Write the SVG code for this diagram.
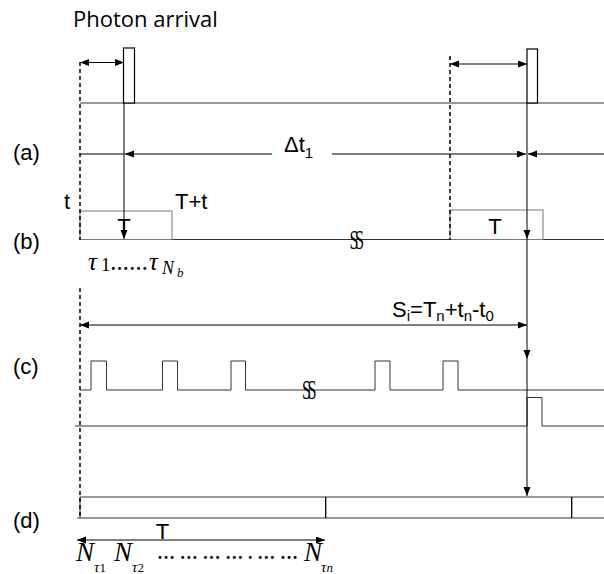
<svg xmlns="http://www.w3.org/2000/svg" width="604" height="574" viewBox="0 0 604 574">
<defs>
<marker id="ah" markerUnits="userSpaceOnUse" markerWidth="10" markerHeight="8" refX="9" refY="3.5" orient="auto-start-reverse">
<path d="M0,0 L9,3.5 L0,7 z" fill="#000"/>
</marker>
</defs>
<style>
.ln{stroke:#333;stroke-width:1;fill:none}
.gr{stroke:#777;stroke-width:1;fill:#fff}
.dash{stroke:#000;stroke-width:1.5;stroke-dasharray:4,3;fill:none}
.ar{stroke:#000;stroke-width:1;fill:none}
.lbl{font-family:"Liberation Sans",Arial,sans-serif;font-size:22px;fill:#000}
.math{font-family:"Liberation Serif","DejaVu Serif",serif;font-style:italic;fill:#000}
.up{font-family:"Liberation Serif","DejaVu Serif",serif;fill:#000}
.brk{font-family:"Liberation Serif",serif;font-size:27px;fill:#000}
</style>
<rect width="604" height="574" fill="#fff"/>
<g id="labels">
<text x="73" y="27" style="font-family:'Open Sans',sans-serif;font-size:22px">Photon arrival</text>
<text class="lbl" x="13" y="160">(a)</text>
<text class="lbl" x="13" y="249">(b)</text>
<text class="lbl" x="13" y="374">(c)</text>
<text class="lbl" x="13" y="528">(d)</text>
</g>
<g id="row-a">
<line class="ln" x1="80" y1="103" x2="604" y2="103"/>
<rect id="photon1" x="123.5" y="48" width="11" height="55" fill="#fff" stroke="#000" stroke-width="1.2"/>
<rect id="photon2" x="527" y="49" width="10.5" height="54" fill="#fff" stroke="#000" stroke-width="1.2"/>
</g>
<g id="row-b">
<line class="ln" x1="80" y1="239.5" x2="604" y2="239.5"/>
<rect class="gr" x="80" y="211" width="92" height="28.5"/>
<rect class="gr" x="450" y="210" width="93" height="29.5"/>
<text class="lbl" x="64" y="209">t</text>
<text class="lbl" x="175" y="209">T+t</text>
<text class="lbl" x="124" y="234" text-anchor="middle">T</text>
<text class="lbl" x="495" y="234" text-anchor="middle">T</text>
<text class="brk" x="355" y="249" text-anchor="middle" letter-spacing="-6" transform="translate(355 0) scale(0.6 1) translate(-355 0)">SS</text>
<text class="math" x="88" y="270" font-size="25">τ</text>
<text class="up" x="101" y="271" font-size="19">1</text>
<text class="up" x="111" y="270" font-size="18" font-weight="bold" textLength="36" lengthAdjust="spacing">......</text>
<text class="math" x="149" y="270" font-size="25">τ</text>
<text class="math" x="162" y="274" font-size="18">N</text>
<text class="math" x="177" y="277" font-size="13">b</text>
</g>
<g id="row-c">
<path class="ln" d="M80,390 H91 V361 H106.5 V390 H162.5 V361 H177.5 V390 H231 V361 H245.5 V390 H375 V361 H390 V390 H443 V361 H458 V390 H604"/>
<path class="ln" d="M75,426 H527 V397.5 H542 V426 H604"/>
<text class="brk" x="307.5" y="399" text-anchor="middle" letter-spacing="-6" transform="translate(307.5 0) scale(0.6 1) translate(-307.5 0)">SS</text>
<text class="lbl" x="392" y="317">S<tspan font-size="15" dy="4">i</tspan><tspan dy="-4">=T</tspan><tspan font-size="15" dy="4">n</tspan><tspan dy="-4">+t</tspan><tspan font-size="15" dy="4">n</tspan><tspan dy="-4">-t</tspan><tspan font-size="15" dy="4">0</tspan></text>
</g>
<g id="row-d">
<path class="ln" d="M80,497 H604 M77,518 H604 M80,497 V518"/>
<line x1="325.7" y1="497" x2="325.7" y2="518" stroke="#000" stroke-width="1.3"/>
<line x1="571.7" y1="497" x2="571.7" y2="518" stroke="#000" stroke-width="1.3"/>
<text class="lbl" x="162.5" y="539" text-anchor="middle">T</text>
<text class="math" x="76" y="561" font-size="27">N</text>
<text class="math" x="94" y="572" font-size="15">τ<tspan font-style="normal" font-size="13">1</tspan></text>
<text class="math" x="114" y="561" font-size="27">N</text>
<text class="math" x="132" y="572" font-size="15">τ<tspan font-style="normal" font-size="13">2</tspan></text>
<text class="up" x="157" y="559" font-size="18" font-weight="bold" textLength="141" lengthAdjust="spacing">… … … … . … …</text>
<text class="math" x="304" y="561" font-size="27">N</text>
<text class="math" x="321" y="572" font-size="15">τ<tspan font-size="13">n</tspan></text>
</g>
<g id="connectors">
<line class="dash" x1="80" y1="62" x2="80" y2="240"/>
<line class="dash" x1="450" y1="56" x2="450" y2="240"/>
<line class="dash" x1="80" y1="288" x2="80" y2="518"/>
<line class="ar" x1="80" y1="62.5" x2="124" y2="62.5" marker-start="url(#ah)" marker-end="url(#ah)"/>
<line class="ar" x1="450" y1="64" x2="527" y2="64" marker-start="url(#ah)" marker-end="url(#ah)"/>
<line class="ar" x1="80" y1="154" x2="124" y2="154"/>
<line class="ar" x1="272" y1="154" x2="125" y2="154" marker-end="url(#ah)"/>
<line class="ar" x1="332" y1="154" x2="526" y2="154" marker-end="url(#ah)"/>
<line class="ar" x1="604" y1="154" x2="528" y2="154" marker-end="url(#ah)"/>
<line class="ar" x1="124" y1="103" x2="124" y2="239" marker-end="url(#ah)"/>
<line class="ar" x1="527" y1="103" x2="527" y2="239" marker-end="url(#ah)"/>
<line class="ar" x1="527" y1="239" x2="527" y2="359" marker-end="url(#ah)"/>
<line class="ar" x1="527" y1="359" x2="527" y2="496" marker-end="url(#ah)"/>
<line class="ar" x1="80" y1="325" x2="527" y2="325" marker-start="url(#ah)" marker-end="url(#ah)"/>
<line class="ar" x1="77" y1="540" x2="325" y2="540" marker-start="url(#ah)" marker-end="url(#ah)"/>
</g>
<text class="lbl" x="284" y="152">Δt<tspan font-size="15" dy="6">1</tspan></text>
</svg>
